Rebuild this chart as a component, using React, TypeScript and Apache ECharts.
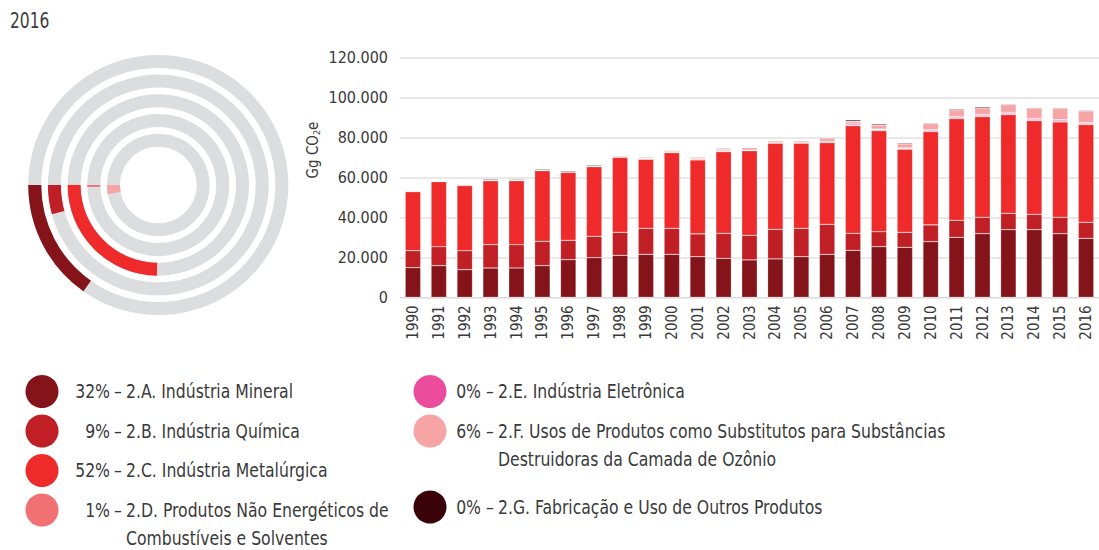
import React, { useEffect, useRef } from "react";
import * as echarts from "echarts";

const FONT = "'Liberation Sans Narrow', 'DejaVu Sans Condensed', 'Roboto', sans-serif";
const TEXT = "#3a3a3a";

const years = [
  "1990", "1991", "1992", "1993", "1994", "1995", "1996", "1997", "1998", "1999",
  "2000", "2001", "2002", "2003", "2004", "2005", "2006", "2007", "2008", "2009",
  "2010", "2011", "2012", "2013", "2014", "2015", "2016",
];

const mineral = [14800, 15800, 13800, 14650, 14650, 15800, 18800, 19800, 21000, 21500, 21500, 20300, 19500, 18700, 19200, 20300, 21500, 23500, 25300, 25000, 27800, 30000, 31800, 33800, 33800, 31800, 29500];
const quimica = [8500, 9500, 9500, 11650, 11650, 12200, 9700, 10700, 11500, 13000, 13000, 11400, 12500, 12300, 14800, 14200, 15000, 8500, 7500, 7500, 8400, 8500, 8200, 8200, 7700, 8200, 8000];
const metalurgica = [29500, 32500, 32500, 32000, 32000, 35300, 34000, 34800, 37500, 34500, 37800, 37000, 40800, 42300, 43000, 42500, 40800, 53800, 50500, 41500, 46600, 50800, 50300, 49300, 46800, 47700, 48800];
const naoEnergeticos = [400, 200, 500, 300, 300, 300, 200, 300, 200, 300, 400, 500, 400, 300, 400, 400, 500, 400, 500, 400, 500, 500, 500, 600, 500, 500, 700];
const eletronica = [0, 0, 0, 0, 0, 0, 0, 0, 0, 0, 0, 0, 0, 0, 0, 0, 0, 800, 300, 300, 500, 600, 600, 600, 600, 600, 400];
const substitutos = [0, 0, 0, 0, 0, 0, 0, 0, 100, 300, 700, 500, 800, 1200, 800, 800, 1500, 1000, 2000, 2000, 3000, 3300, 3300, 3800, 5300, 5600, 5800];
const outros = [300, 200, 200, 500, 500, 500, 500, 500, 400, 400, 300, 400, 400, 200, 300, 300, 400, 700, 600, 500, 400, 500, 600, 400, 300, 400, 400];

const seriesNames = [
  "2.A. Indústria Mineral",
  "2.B. Indústria Química",
  "2.C. Indústria Metalúrgica",
  "2.D. Produtos Não Energéticos de",
  "2.E. Indústria Eletrônica",
  "2.F. Usos de Produtos como Substitutos para Substâncias",
  "2.G. Fabricação e Uso de Outros Produtos",
];
const seriesSecondLines = ["", "", "", "Combustíveis e Solventes", "", "Destruidoras da Camada de Ozônio", ""];
const seriesColors = ["#85131a", "#c11f26", "#ee2a2a", "#f07073", "#ec4c9c", "#f6a4a6", "#3a0209"];
const shares2016 = [32, 9, 52, 1, 0, 6, 0];

const yTicks = [0, 20000, 40000, 60000, 80000, 100000, 120000];
const yearTitle = "2016";

const fmt = (v: number) => String(v).replace(/\B(?=(\d{3})+(?!\d))/g, ".");

export default function App() {
  const ref = useRef<HTMLDivElement>(null);

  useEffect(() => {
    if (!ref.current) return;
    const chart = echarts.init(ref.current, undefined, { renderer: "svg" });
    const data = [mineral, quimica, metalurgica, naoEnergeticos, eletronica, substitutos, outros];

    const ringIdx = shares2016.map((s, i) => i).filter((i) => shares2016[i] > 0).reverse();

    const SX = 0.87;
    const LF = `20px ${FONT}`;

    const graphics: any[] = [
      {
        type: "text",
        x: 10,
        y: 21,
        scaleX: 0.82,
        style: { text: yearTitle, font: `500 21px ${FONT}`, fill: "#3c3c3c", verticalAlign: "middle" },
      },
      {
        type: "text",
        x: 313,
        y: 150,
        rotation: Math.PI / 2,
        style: {
          text: "{a|Gg CO}{s|2}{a|e}",
          align: "center",
          verticalAlign: "middle",
          rich: {
            a: { fontFamily: FONT, fontSize: 15, fill: TEXT, color: TEXT },
            s: { fontFamily: FONT, fontSize: 9, fill: TEXT, color: TEXT, padding: [8, 0, 0, 0] },
          },
        },
      },
    ];

    const legendPos = [
      { cx: 42, cy: 391.5, pctRight: 110, dashX: 114, nameX: 126 },
      { cx: 42, cy: 431, pctRight: 110, dashX: 114, nameX: 126 },
      { cx: 42, cy: 470.5, pctRight: 110, dashX: 114, nameX: 126 },
      { cx: 42, cy: 510, pctRight: 110, dashX: 114, nameX: 126 },
      { cx: 430, cy: 391.5, pctRight: 481, dashX: 486, nameX: 498 },
      { cx: 430, cy: 431, pctRight: 481, dashX: 486, nameX: 498 },
      { cx: 430, cy: 507, pctRight: 481, dashX: 486, nameX: 498 },
    ];
    seriesNames.forEach((name, i) => {
      const p = legendPos[i];
      graphics.push({
        type: "circle",
        shape: { cx: p.cx, cy: p.cy, r: 16.5 },
        style: { fill: seriesColors[i] },
      });
      graphics.push({
        type: "text",
        x: p.pctRight,
        y: p.cy,
        scaleX: SX,
        style: { text: `${shares2016[i]}%`, align: "right", verticalAlign: "middle", font: LF, fill: TEXT },
      });
      graphics.push({
        type: "text",
        x: p.dashX,
        y: p.cy,
        scaleX: SX,
        style: { text: "–", align: "left", verticalAlign: "middle", font: LF, fill: TEXT },
      });
      graphics.push({
        type: "text",
        x: p.nameX,
        y: p.cy,
        scaleX: SX,
        style: { text: name, align: "left", verticalAlign: "middle", font: LF, fill: TEXT },
      });
      if (seriesSecondLines[i]) {
        graphics.push({
          type: "text",
          x: p.nameX,
          y: p.cy + 28.5,
          scaleX: SX,
          style: { text: seriesSecondLines[i], align: "left", verticalAlign: "middle", font: LF, fill: TEXT },
        });
      }
    });

    const option: any = {
      animation: false,
      backgroundColor: "#ffffff",
      textStyle: { fontFamily: FONT },
      graphic: graphics,
      polar: { center: [158.3, 185], radius: [35, 133.4] },
      angleAxis: {
        type: "value",
        min: 0,
        max: 210,
        startAngle: 180,
        clockwise: false,
        show: false,
      },
      radiusAxis: {
        type: "category",
        data: ringIdx.map((i) => seriesNames[i]),
        show: false,
      },
      grid: { left: 400, top: 57.3, width: 701, height: 240 },
      xAxis: {
        type: "category",
        data: years,
        axisTick: { show: false },
        axisLine: { show: true, lineStyle: { color: "#dcdcdc" } },
        axisLabel: { rotate: 90, fontSize: 15, color: TEXT, margin: 8, fontFamily: FONT },
      },
      yAxis: {
        type: "value",
        min: yTicks[0],
        max: yTicks[yTicks.length - 1],
        interval: yTicks[1] - yTicks[0],
        axisLine: { show: false },
        axisTick: { show: false },
        splitLine: { lineStyle: { color: "#e2e2e2", width: 1.5 } },
        axisLabel: { formatter: (v: number) => fmt(v), fontSize: 16, color: TEXT, margin: 12, fontFamily: FONT },
      },
      series: [
        {
          type: "bar",
          coordinateSystem: "polar",
          barWidth: 13,
          showBackground: true,
          backgroundStyle: { color: "#dcdddf" },
          data: ringIdx.map((i) => ({ value: shares2016[i], itemStyle: { color: seriesColors[i] } })),
        },
        ...seriesNames.map((name, i) => ({
          type: "bar",
          name,
          stack: "total",
          barWidth: "60%",
          data: data[i],
          itemStyle: { color: seriesColors[i], borderColor: "rgba(255,255,255,0.35)", borderWidth: 0.6 },
        })),
      ],
    };
    chart.setOption(option);
    return () => chart.dispose();
  }, []);

  return (
    <div
      ref={ref}
      style={{ position: "absolute", left: 0, top: 0, width: 1099, height: 550 }}
    />
  );
}
